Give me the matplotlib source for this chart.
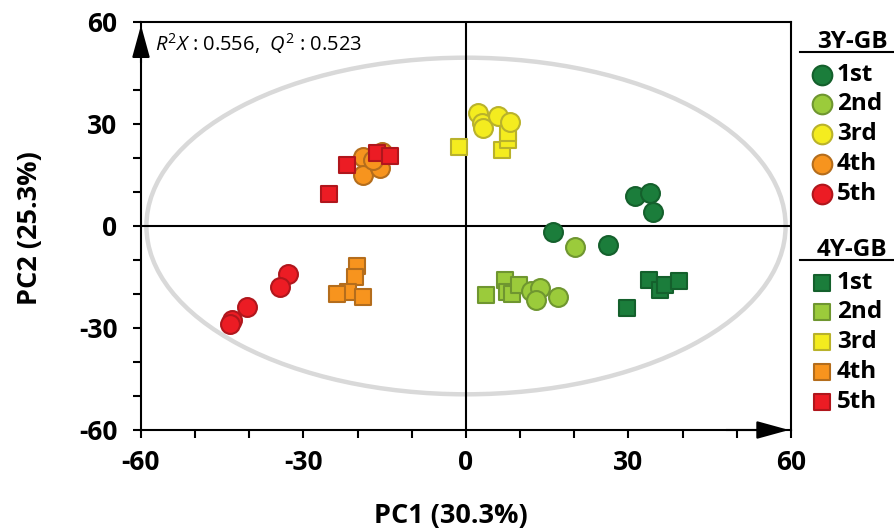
import matplotlib.pyplot as plt
from matplotlib.patches import Ellipse
from matplotlib.ticker import MultipleLocator

plt.rcParams['font.family'] = ['Open Sans', 'DejaVu Sans']
plt.rcParams['mathtext.fontset'] = 'custom'
plt.rcParams['mathtext.rm'] = 'Open Sans'
plt.rcParams['mathtext.it'] = 'Open Sans:italic'
plt.rcParams['axes.unicode_minus'] = False

# DATA
groups = ['1st', '2nd', '3rd', '4th', '5th']
face_colors = ['#1b7d3b', '#9bcb3b', '#f4ec1f', '#f7941e', '#ec1c24']
edge_colors = ['#14602c', '#6f9630', '#b9b22b', '#b46d1c', '#b0161c']

# 3Y-GB samples (circles)
y3_pc1 = [[16.1, 26.2, 31.2, 34.0, 34.5],
          [20.1, 12.0, 13.7, 12.9, 17.0],
          [2.2, 2.9, 3.1, 5.9, 8.1],
          [-19.0, -19.0, -15.5, -15.9, -17.2],
          [-32.9, -34.3, -40.4, -43.2, -43.6]]
y3_pc2 = [[-1.8, -5.6, 8.8, 9.7, 4.1],
          [-6.2, -19.1, -18.2, -21.8, -20.9],
          [33.2, 30.3, 28.8, 32.4, 30.6],
          [20.3, 15.0, 21.8, 17.1, 19.5],
          [-14.1, -17.9, -23.8, -27.6, -28.8]]

# 4Y-GB samples (squares)
y4_pc1 = [[33.8, 35.8, 36.7, 39.3, 29.7],
          [3.7, 7.2, 7.6, 8.5, 9.8],
          [-1.3, 6.6, 7.7, 7.8],
          [-20.1, -20.5, -21.8, -23.8, -19.0],
          [-25.3, -22.0, -16.4, -14.0]]
y4_pc2 = [[-15.9, -18.8, -17.4, -16.2, -24.1],
          [-20.3, -15.9, -19.4, -20.0, -17.4],
          [23.2, 22.4, 25.3, 27.5],
          [-11.8, -15.0, -19.4, -20.0, -20.9],
          [9.4, 17.9, 21.5, 20.6]]

r2x = 0.556
q2 = 0.523
pc1_var = 30.3
pc2_var = 25.3
ellipse_w = 118
ellipse_h = 99

W, H = 895, 531
fig = plt.figure(figsize=(W / 100, H / 100), dpi=100)
ax = fig.add_axes([141 / W, 1 - 430 / H, 650 / W, 408 / H])

# hotelling ellipse + cross lines
ax.add_patch(Ellipse((0, 0), ellipse_w, ellipse_h, fill=False,
                     edgecolor='#d9d9d9', lw=3.2, zorder=1))
ax.axhline(0, color='k', lw=1.5, zorder=2)
ax.axvline(0, color='k', lw=1.5, zorder=2)

for i in range(len(groups)):
    ax.scatter(y4_pc1[i], y4_pc2[i], marker='s', s=135, c=face_colors[i],
               edgecolors=edge_colors[i], linewidths=1.5, zorder=3 + 2 * i)
    ax.scatter(y3_pc1[i], y3_pc2[i], marker='o', s=185, c=face_colors[i],
               edgecolors=edge_colors[i], linewidths=1.5, zorder=4 + 2 * i)

ax.set_xlim(-60, 60)
ax.set_ylim(-60, 60)
ax.set_xticks([-60, -30, 0, 30, 60])
ax.set_yticks([-60, -30, 0, 30, 60])
ax.xaxis.set_minor_locator(MultipleLocator(10))
ax.yaxis.set_minor_locator(MultipleLocator(10))
ax.tick_params(which='both', direction='out', length=6, width=1.5)
ax.tick_params(axis='x', labelsize=19, pad=8)
ax.tick_params(axis='y', labelsize=19, pad=11)
for lab in ax.get_xticklabels() + ax.get_yticklabels():
    lab.set_fontweight('bold')
for sp in ax.spines.values():
    sp.set_linewidth(1.5)

# arrow heads on the axes
arw = dict(arrowstyle='-|>,head_length=0.8,head_width=0.22', mutation_scale=25,
           color='k', lw=1.5, shrinkA=0, shrinkB=0)
ax.annotate('', xy=(0, 0.992), xytext=(0, 0.9), xycoords='axes fraction',
            arrowprops=arw, annotation_clip=False)
ax.annotate('', xy=(0.997, 0), xytext=(0.9, 0), xycoords='axes fraction',
            arrowprops=arw, annotation_clip=False)

ax.text(0.022, 0.948, r'$R^2X$ : %.3f,  $Q^2$ : %.3f' % (r2x, q2),
        transform=ax.transAxes, fontsize=14.5, va='center', ha='left')

fig.text(451 / W, 1 - 516 / H, 'PC1 (%.1f%%)' % pc1_var, fontsize=19.5,
         fontweight='bold', ha='center', va='center')
fig.text(30 / W, 1 - 228 / H, 'PC2 (%.1f%%)' % pc2_var, fontsize=19.5,
         fontweight='bold', ha='center', va='center', rotation=90)

# legend panel
lax = fig.add_axes([0, 0, 1, 1])
lax.set_xlim(0, W)
lax.set_ylim(H, 0)
lax.axis('off')
legend_blocks = [('3Y-GB', 'o', 200, 42, [75, 104, 134, 164, 194]),
                 ('4Y-GB', 's', 145, 250, [283, 312, 342, 372, 402])]
for title, mk, size, ty, rows in legend_blocks:
    lax.text(852, ty, title, fontsize=17.5, fontweight='bold', ha='center', va='center')
    lax.plot([800, 895], [ty + 10, ty + 10], color='k', lw=1.5)
    for i, yy in enumerate(rows):
        lax.scatter([822], [yy], marker=mk, s=size, c=face_colors[i],
                    edgecolors=edge_colors[i], linewidths=1.5)
        lax.text(837, yy, groups[i], fontsize=17.5, fontweight='bold', ha='left', va='center')

fig.savefig('out.png', dpi=100)
